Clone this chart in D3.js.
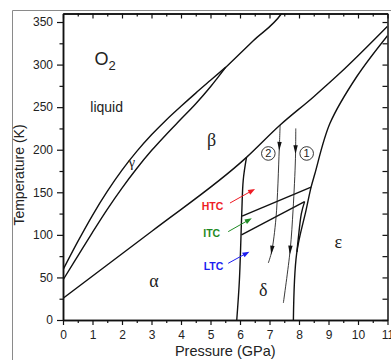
<!DOCTYPE html>
<html>
<head>
<meta charset="utf-8">
<script src="https://cdn.jsdelivr.net/npm/d3@7"></script>
<style>
  body { margin: 0; background: #fff; }
  svg { display: block; }
</style>
</head>
<body>
<svg id="chart" width="391" height="360"></svg>
<script>
// phase boundaries of O2, [pressure GPa, temperature K]
const meltingCurve = [[0, 59], [0.5, 92], [1, 123], [1.5, 151], [2, 176], [2.5, 198], [3, 217.5], [3.5, 235], [4, 251], [4.5, 266.5], [5, 281.5], [5.52, 297]];
const gammaBetaCurve = [[0, 47], [0.5, 75], [1, 103], [1.5, 130], [2, 155], [2.5, 178], [3, 199], [3.5, 218], [4, 236], [4.5, 254], [5, 274], [5.52, 297]];
const liquidBetaCurve = [[5.52, 297], [6.45, 328], [7.41, 360], [7.45, 362]];
const alphaBetaCurve = [[0, 25.5], [3, 104], [6.22, 191], [7.36, 229], [8.49, 262], [9.39, 290], [11, 345]];
const alphaDeltaCurve = [[6.22, 191], [6.11, 164.5], [6.06, 125.7], [5.98, 47], [5.89, 0]];
const epsilonCurve = [[11, 334], [9.96, 286], [9.05, 231], [8.54, 172], [8.41, 156], [8.24, 129], [7.92, 78], [7.81, 0]];
const epsilonBranch = [[8.19, 139], [8.08, 125], [7.98, 97], [7.93, 80]];
const htcLine = [[6.07, 122], [8.41, 156]];
const itcLine = [[6.05, 100], [8.19, 139]];

// compression paths and where their arrowheads sit (K)
const path2 = [[7.36, 229], [7.33, 200], [7.22, 120], [7.07, 80], [6.96, 67]];
const path2Heads = [204, 82];
const path1 = [[7.89, 225], [7.88, 190], [7.8, 130], [7.7, 82], [7.47, 20]];
const path1Heads = [200, 82];

// coloured pointers for the transitions
const transitionNames = ['HTC', 'ITC', 'LTC'];
const transitionColors = ['#ee1c25', '#1f8a24', '#1c1cf0'];
const transitionArrows = [
  [[5.66, 137.4], [6.51, 153.9]],
  [[5.6, 103.8], [6.4, 119.5]],
  [[5.6, 66.6], [6.32, 80.3]]
];

const xTicks = d3.range(0, 12, 1);
const xMinorTicks = d3.range(0.5, 11, 1);
const yTicks = d3.range(0, 351, 50);
const yMinorTicks = d3.range(25, 360, 50);

const svg = d3.select('#chart');
const x = d3.scaleLinear().domain([0, 11]).range([63, 387.5]);
const y = d3.scaleLinear().domain([0, 360]).range([320, 13.5]);

// outer figure frame
svg.append('path')
  .attr('d', 'M12.5,360V10.5H391')
  .attr('fill', 'none')
  .attr('stroke', '#8a8a8a')
  .attr('stroke-width', 1);

svg.append('clipPath').attr('id', 'plot-clip')
  .append('rect')
    .attr('x', x(0)).attr('y', y(360))
    .attr('width', x(11) - x(0)).attr('height', y(0) - y(360));

const plot = svg.append('g').attr('clip-path', 'url(#plot-clip)');

const line = d3.line()
  .x(d => x(d[0]))
  .y(d => y(d[1]))
  .curve(d3.curveCatmullRom.alpha(0.5));

const lineX = d3.line()
  .x(d => x(d[0]))
  .y(d => y(d[1]))
  .curve(d3.curveMonotoneX);

const smoothInX = [meltingCurve, gammaBetaCurve, liquidBetaCurve, alphaBetaCurve];
const otherBoundaries = [alphaDeltaCurve, epsilonCurve, epsilonBranch, htcLine, itcLine];

function drawBoundary(sel, gen) {
  sel.enter()
    .append('path')
      .attr('d', gen)
      .attr('fill', 'none')
      .attr('stroke', '#111')
      .attr('stroke-width', 1.4);
}

plot.selectAll('path.bx').data(smoothInX).call(drawBoundary, lineX);
plot.selectAll('path.by').data(otherBoundaries).call(drawBoundary, line);

function headAt(points, t) {
  for (let i = 0; i < points.length - 1; i++) {
    const a = points[i], b = points[i + 1];
    if ((t <= a[1] && t >= b[1]) || (t >= a[1] && t <= b[1])) {
      const f = (t - a[1]) / (b[1] - a[1]);
      const px = x(a[0] + f * (b[0] - a[0]));
      const py = y(t);
      const ang = Math.atan2(y(b[1]) - y(a[1]), x(b[0]) - x(a[0]));
      return { px, py, ang };
    }
  }
  return null;
}

function triangle(px, py, ang, len, half) {
  const c = Math.cos(ang), s = Math.sin(ang);
  const tip = [px + c * len / 2, py + s * len / 2];
  const bx = px - c * len / 2, by = py - s * len / 2;
  return [tip, [bx - s * half, by + c * half], [bx + s * half, by - c * half]];
}

[[path2, path2Heads], [path1, path1Heads]].forEach(([pts, heads]) => {
  plot.append('path')
    .attr('d', line(pts))
    .attr('fill', 'none')
    .attr('stroke', '#222')
    .attr('stroke-width', 0.9);
  heads.forEach(t => {
    const h = headAt(pts, t);
    plot.append('polygon')
      .attr('points', triangle(h.px, h.py, h.ang, 9, 2.2).join(' '))
      .attr('fill', '#111');
  });
});

// circled path numbers
[['2', 6.96], ['1', 8.26]].forEach(([label, p]) => {
  const g = svg.append('g').attr('transform', `translate(${x(p)},${y(195.6)})`);
  g.append('circle').attr('r', 6.8).attr('fill', '#fff').attr('stroke', '#222').attr('stroke-width', 0.9);
  g.append('text')
    .attr('text-anchor', 'middle')
    .attr('dy', '0.36em')
    .style('font-family', '"Liberation Sans", Arial, sans-serif')
    .style('font-size', '11px')
    .attr('fill', '#222')
    .text(label);
});

// transition pointers
const labelPos = [[5.07, 129.5], [5.04, 97], [5.1, 58.7]];
transitionArrows.forEach((arr, i) => {
  const x0 = x(arr[0][0]), y0 = y(arr[0][1]);
  const x1 = x(arr[1][0]), y1 = y(arr[1][1]);
  const ang = Math.atan2(y1 - y0, x1 - x0);
  svg.append('line')
    .attr('x1', x0).attr('y1', y0)
    .attr('x2', x1 - Math.cos(ang) * 4).attr('y2', y1 - Math.sin(ang) * 4)
    .attr('stroke', transitionColors[i])
    .attr('stroke-width', 1);
  svg.append('polygon')
    .attr('points', triangle(x1 - Math.cos(ang) * 3.5, y1 - Math.sin(ang) * 3.5, ang, 7, 2.6).join(' '))
    .attr('fill', transitionColors[i]);
  svg.append('text')
    .attr('x', x(labelPos[i][0]))
    .attr('y', y(labelPos[i][1]))
    .attr('text-anchor', 'middle')
    .style('font-family', '"Liberation Sans", Arial, sans-serif')
    .style('font-size', '10.5px')
    .style('font-weight', 'bold')
    .attr('fill', transitionColors[i])
    .text(transitionNames[i]);
});

// phase labels
const greek = [['α', 3.08, 39, 18], ['β', 5.04, 204, 18], ['γ', 2.33, 180, 15], ['δ', 6.79, 28, 18], ['ε', 9.33, 85, 18]];
greek.forEach(([t, p, k, fs]) => {
  svg.append('text')
    .attr('x', x(p)).attr('y', y(k))
    .attr('text-anchor', 'middle')
    .style('font-family', '"Liberation Serif", "Times New Roman", serif')
    .style('font-size', fs + 'px')
    .attr('fill', '#222')
    .text(t);
});

svg.append('text')
  .attr('x', x(1.48)).attr('y', y(244))
  .attr('text-anchor', 'middle')
  .style('font-family', '"Liberation Sans", Arial, sans-serif')
  .style('font-size', '14px')
  .attr('fill', '#222')
  .text('liquid');

const o2 = svg.append('text')
  .attr('x', x(1.07)).attr('y', y(299))
  .style('font-family', '"Liberation Sans", Arial, sans-serif')
  .style('font-size', '18px')
  .attr('fill', '#222');
o2.append('tspan').text('O');
o2.append('tspan').attr('dy', 5).style('font-size', '13px').text('2');

// axes
const fontAxis = '"Liberation Sans", Arial, sans-serif';

function styleAxis(g) {
  g.select('.domain').attr('stroke', '#111').attr('stroke-width', 1.5);
  g.selectAll('.tick line').attr('stroke', '#111').attr('stroke-width', 1.2);
  g.selectAll('.tick text').attr('fill', '#222').style('font-family', fontAxis).style('font-size', '12px');
}

svg.append('g')
  .attr('transform', `translate(0,${y(0)})`)
  .call(d3.axisBottom(x).tickValues(xMinorTicks).tickSize(3).tickSizeOuter(0).tickFormat(''))
  .call(styleAxis);
svg.append('g')
  .attr('transform', `translate(0,${y(0)})`)
  .call(d3.axisBottom(x).tickValues(xTicks).tickSize(5).tickSizeOuter(0).tickPadding(5))
  .call(styleAxis);

svg.append('g')
  .attr('transform', `translate(0,${y(360)})`)
  .call(d3.axisTop(x).tickValues(xMinorTicks).tickSize(-3).tickSizeOuter(0).tickFormat(''))
  .call(styleAxis);
svg.append('g')
  .attr('transform', `translate(0,${y(360)})`)
  .call(d3.axisTop(x).tickValues(xTicks).tickSize(-5).tickSizeOuter(0).tickFormat(''))
  .call(styleAxis);

svg.append('g')
  .attr('transform', `translate(${x(0)},0)`)
  .call(d3.axisLeft(y).tickValues(yMinorTicks).tickSize(3.5).tickSizeOuter(0).tickFormat(''))
  .call(styleAxis);
svg.append('g')
  .attr('transform', `translate(${x(0)},0)`)
  .call(d3.axisLeft(y).tickValues(yTicks).tickSize(6).tickSizeOuter(0).tickPadding(4))
  .call(styleAxis);

svg.append('g')
  .attr('transform', `translate(${x(11)},0)`)
  .call(d3.axisRight(y).tickValues(yMinorTicks.concat(yTicks)).tickSize(-5).tickSizeOuter(0).tickFormat(''))
  .call(styleAxis);

svg.append('text')
  .attr('x', (x(0) + x(11)) / 2)
  .attr('y', 356)
  .attr('text-anchor', 'middle')
  .style('font-family', fontAxis)
  .style('font-size', '14.5px')
  .attr('fill', '#222')
  .text('Pressure (GPa)');

svg.append('text')
  .attr('transform', 'translate(24,175) rotate(-90)')
  .attr('text-anchor', 'middle')
  .style('font-family', fontAxis)
  .style('font-size', '14px')
  .attr('fill', '#222')
  .text('Temperature (K)');
</script>
</body>
</html>
